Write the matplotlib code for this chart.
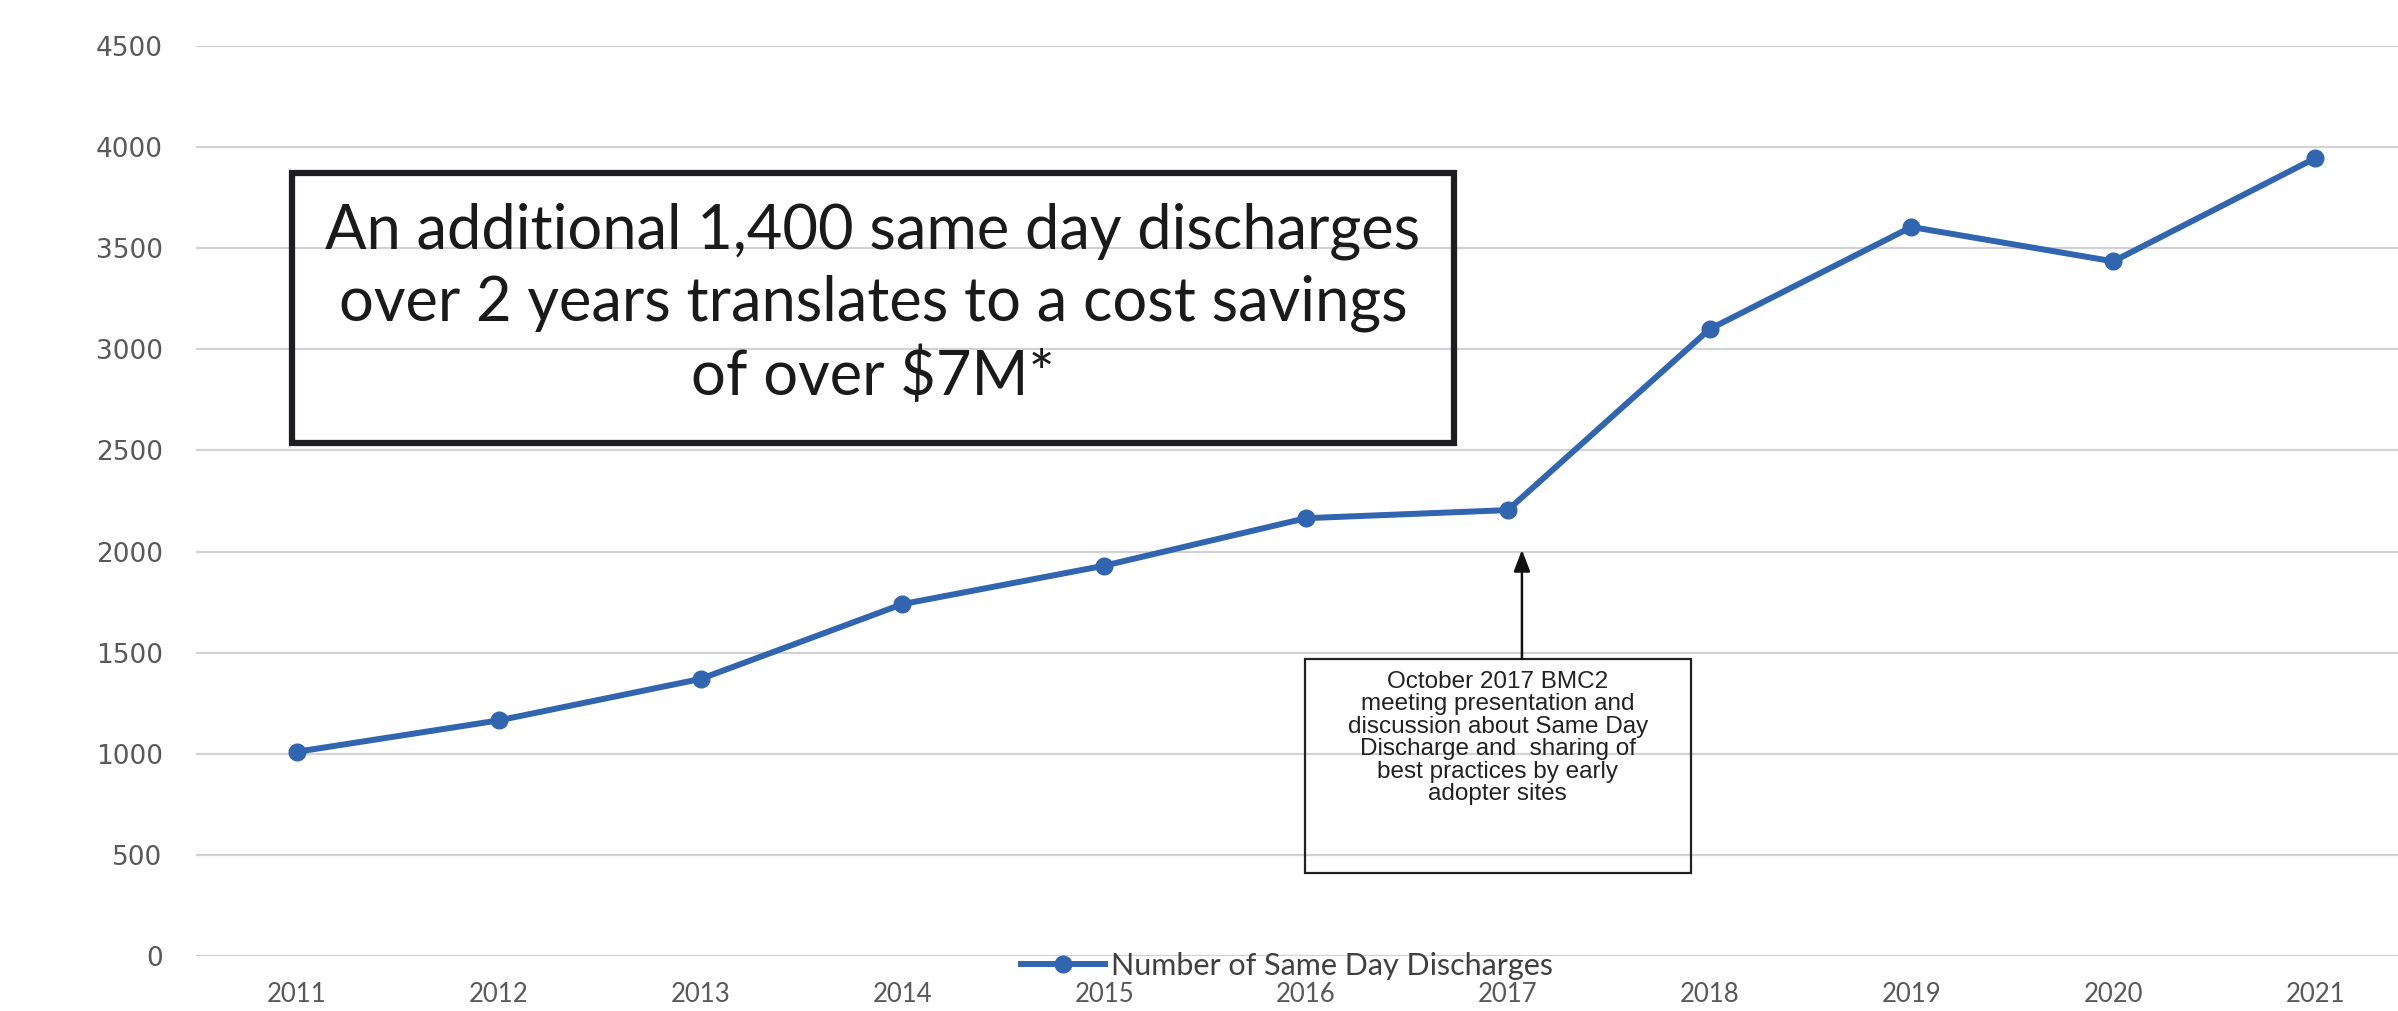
import matplotlib
matplotlib.use("Agg")
import matplotlib.pyplot as plt
from matplotlib.patches import Rectangle

years = [2011, 2012, 2013, 2014, 2015, 2016, 2017, 2018, 2019, 2020, 2021]
year_labels = [str(y) for y in years]
discharges = [1010, 1165, 1370, 1740, 1930, 2165, 2205, 3100, 3605, 3435, 3945]
y_ticks = [0, 500, 1000, 1500, 2000, 2500, 3000, 3500, 4000, 4500]
series_name = "Number of Same Day Discharges"
headline = "An additional 1,400 same day discharges\nover 2 years translates to a cost savings\nof over $7M*"
note = ("October 2017 BMC2\nmeeting presentation and\ndiscussion about Same Day\n"
        "Discharge and  sharing of\nbest practices by early\nadopter sites")

W, H = 2398, 1011
fig = plt.figure(figsize=(W / 100, H / 100), dpi=100)
ax = fig.add_axes([196 / W, 55 / H, (2416 - 196) / W, 910 / H])

blue = "#3165AF"
ax.set_xlim(2010.5, 2021.5)
ax.set_ylim(0, 4500)
ax.set_yticks(y_ticks)
ax.set_yticklabels([str(v) for v in y_ticks], fontsize=19, color="#595959",
                   family="DejaVu Sans")
ax.set_xticks(years)
ax.set_xticklabels(year_labels, fontsize=18.5, color="#595959",
                   family=["Liberation Sans Narrow", "Lato"])
ax.tick_params(axis="y", length=0, pad=24)
ax.tick_params(axis="x", length=0, pad=19)
for s in ax.spines.values():
    s.set_visible(False)
ax.grid(axis="y", color="#d2d2d2", linewidth=1.6)
ax.set_axisbelow(True)

ax.plot(years, discharges, color=blue, linewidth=4.3, marker="o",
        markersize=12, label=series_name, zorder=3)

# headline box
ax.add_patch(Rectangle((2010.975, 2537), 2016.733 - 2010.975, 3872 - 2537,
                       fill=False, edgecolor="#1d1d22", linewidth=4.5, zorder=4))
ht = ax.text((2010.975 + 2016.733) / 2, 3222, headline, ha="center", va="center",
             fontsize=38, family="Lato", color="#1a1a1a", linespacing=1.32, zorder=5)

# annotation box
ax.add_patch(Rectangle((2015.995, 410), 2017.906 - 2015.995, 1469 - 410,
                       fill=False, edgecolor="#222222", linewidth=1.6, zorder=4))
ax.text((2015.995 + 2017.906) / 2, 1078, note, ha="center", va="center",
        fontsize=17.5, family="Liberation Sans", color="#222222",
        linespacing=1.02, zorder=5)
ax.annotate("", xy=(2017.07, 2008), xytext=(2017.07, 1469),
            arrowprops=dict(arrowstyle="-|>,head_length=1.3,head_width=0.5",
                            color="#111111", linewidth=1.8, shrinkA=0, shrinkB=0),
            zorder=5)

# fit headline width
fig.canvas.draw()
r = fig.canvas.get_renderer()
w = ht.get_window_extent(r).width
ht.set_fontsize(38 * 1095 / w)

leg = ax.legend(loc="center left", bbox_to_anchor=(1021 / W, 1 - 966 / H),
                bbox_transform=fig.transFigure, frameon=False, borderpad=0,
                borderaxespad=0, handlelength=2.75, handletextpad=0.2,
                prop={"family": "Lato", "size": 22})
for t in leg.get_texts():
    t.set_color("#404040")

fig.savefig("out.png", dpi=100)
